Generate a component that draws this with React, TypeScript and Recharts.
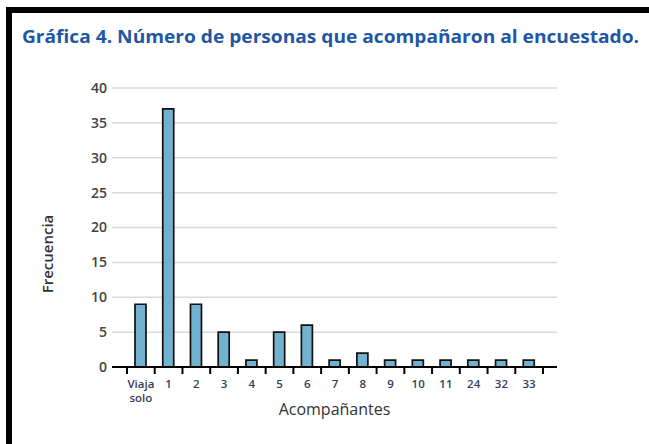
import React from 'react';
import { BarChart, Bar, XAxis, YAxis, CartesianGrid, Label } from 'recharts';

const categories = ['Viaja solo', '1', '2', '3', '4', '5', '6', '7', '8', '9', '10', '11', '24', '32', '33'];
const frecuencia = [9, 37, 9, 5, 1, 5, 6, 1, 2, 1, 1, 1, 1, 1, 1];
const yTicks = [0, 5, 10, 15, 20, 25, 30, 35, 40];

const data = categories.map((c, i) => ({ name: c, frecuencia: frecuencia[i] }));

const W = 649;
const H = 444;
const MARGIN = { top: 88, right: 92, bottom: 20, left: 0 };
const Y_WIDTH = 112;
const X_HEIGHT = 57;
const PAD = { left: 15, right: 14 };
const TICK_SIZE = 0;
const TICK_MARGIN = 4;
const FONT = '"Open Sans", "DejaVu Sans", sans-serif';

// width of one category band, so tick marks can sit between the bars
const plotWidth = W - MARGIN.left - MARGIN.right - Y_WIDTH;
const band = (plotWidth - PAD.left - PAD.right) / categories.length;

const XTick = (props: any) => {
  const { x, y, payload, index } = props;
  const axisY = y - TICK_SIZE - TICK_MARGIN;
  const half = band / 2;
  const lines = String(payload.value).split(' ');
  return (
    <g>
      <line x1={x - half} x2={x - half} y1={axisY} y2={axisY + 7} stroke="#000" strokeWidth={2} />
      {index === categories.length - 1 && (
        <line x1={x + half} x2={x + half} y1={axisY} y2={axisY + 7} stroke="#000" strokeWidth={2} />
      )}
      {lines.map((l, i) => (
        <text
          key={i}
          x={x}
          y={axisY + 21 + i * 14}
          textAnchor="middle"
          fontSize={11.5}
          fontWeight={600}
          fontFamily={FONT}
          fill="#3a3a5a"
        >
          {l}
        </text>
      ))}
    </g>
  );
};

export default function App() {
  return (
    <div style={{ position: 'absolute', left: 0, top: 0, width: W, height: H, background: '#fff', overflow: 'hidden' }}>
      <div style={{ position: 'absolute', left: 6, top: 7, width: W - 6, height: 6, background: '#000' }} />
      <div style={{ position: 'absolute', left: 6, top: 7, width: 6, height: H - 7, background: '#000' }} />
      <div style={{ position: 'absolute', left: 0, top: 0 }}>
        <BarChart width={W} height={H} data={data} margin={MARGIN}>
          <CartesianGrid vertical={false} stroke="#d9d9d9" strokeWidth={1.5} />
          <XAxis
            dataKey="name"
            interval={0}
            height={X_HEIGHT}
            padding={PAD}
            axisLine={{ stroke: '#000', strokeWidth: 2 }}
            tickLine={false}
            tickSize={TICK_SIZE}
            tickMargin={TICK_MARGIN}
            tick={<XTick />}
          >
            <Label value="Acompañantes" position="insideBottom" offset={9} fontSize={16} fontWeight={500} fontFamily={FONT} fill="#333" />
          </XAxis>
          <YAxis
            width={Y_WIDTH}
            domain={[0, 40]}
            ticks={yTicks}
            interval={0}
            axisLine={false}
            tickLine={false}
            tickSize={3}
            tickMargin={2}
            tick={{ fontSize: 14, fontFamily: FONT, fill: '#444', fontWeight: 600 }}
          />
          <Bar
            dataKey="frecuencia"
            fill="#72b2d1"
            stroke="#111"
            strokeWidth={1.7}
            barSize={11}
            isAnimationActive={false}
          />
        </BarChart>
      </div>
      <svg width={W} height={H} style={{ position: 'absolute', left: 0, top: 0, pointerEvents: 'none' }}>
        <text
          x={22}
          y={43}
          fontSize={18}
          fontWeight="bold"
          fontFamily={FONT}
          fill="#1f57a4"
          textLength={617}
          lengthAdjust="spacingAndGlyphs"
        >
          Gráfica 4. Número de personas que acompañaron al encuestado.
        </text>
        <text
          x={53}
          y={254}
          transform="rotate(-90, 53, 254)"
          textAnchor="middle"
          fontSize={15}
          fontWeight={600}
          fontFamily={FONT}
          fill="#333"
        >
          Frecuencia
        </text>
      </svg>
    </div>
  );
}
